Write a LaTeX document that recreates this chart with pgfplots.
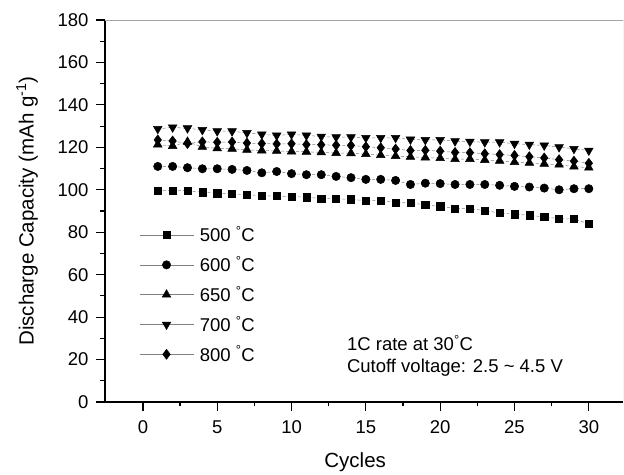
\documentclass[border=0pt]{standalone}
\usepackage{fontspec}
\setmainfont{Liberation Sans}
\usepackage{pgfplots}
\pgfplotsset{compat=1.18}

\pgfplotstableread{
x  a500  a600  a650  a700  a800
1  99.5  111.0 121.3 128.7 123.5
2  99.7  111.0 120.6 129.4 123.0
3  99.5  110.4 122.6 129.0 121.8
4  98.8  109.9 120.2 128.2 122.6
5  98.4  109.9 119.5 127.6 122.4
6  98.2  109.6 119.3 127.6 122.5
7  97.6  109.1 118.8 126.8 122.0
8  97.3  108.0 118.5 126.1 121.8
9  97.0  108.6 118.3 125.6 121.6
10 96.8  107.6 118.0 126.1 121.7
11 96.5  107.1 117.9 125.6 121.3
12 95.9  107.1 117.6 125.1 121.2
13 95.7  106.3 117.3 124.8 121.0
14 95.5  105.7 117.2 124.8 120.9
15 94.8  104.9 116.8 124.5 120.3
16 94.9  104.9 116.3 124.5 119.8
17 94.0  104.4 115.9 124.5 119.2
18 93.9  102.5 115.5 123.7 118.5
19 92.8  103.1 115.2 123.5 118.6
20 92.2  102.9 114.9 123.5 118.2
21 91.2  102.5 114.4 122.9 117.6
22 91.0  102.5 114.5 122.7 117.5
23 90.3  102.5 114.0 122.4 117.0
24 89.0  102.1 113.6 122.4 116.6
25 88.5  101.6 113.0 121.7 116.2
26 88.0  101.3 112.7 121.3 115.6
27 87.2  100.8 112.2 120.9 115.0
28 86.4  100.0 111.8 120.1 114.2
29 86.2  100.5 110.9 119.3 113.5
30 84.0  100.5 110.4 118.5 112.5
}\capdata

\begin{document}
\begin{tikzpicture}
\begin{axis}[
    name=ax,
    scale only axis,
    width=518pt, height=382pt,
    xmin=-2.55, xmax=32.3,
    ymin=0, ymax=180,
    axis lines*=left,
    axis line style={line width=1.2pt},
    xtick={0,5,...,30},
    ytick={0,20,...,180},
    minor x tick num=1,
    minor y tick num=1,
    tick align=outside,
    major tick length=9pt,
    minor tick length=4.5pt,
    tick style={black, line width=1.2pt},
    /pgf/number format/assume math mode=true,
    tick label style={font=\fontsize{18.5}{20}\selectfont},
    xticklabel style={yshift=-6pt},
    yticklabel style={xshift=-4pt},
    xlabel={Cycles},
    ylabel={Discharge Capacity (mAh g\textsuperscript{-1})},
    every axis x label/.style={at={(rel axis cs:0.483,0)}, yshift=-60pt, anchor=center,
        font=\fontsize{20.5}{22}\selectfont},
    every axis y label/.style={at={(rel axis cs:0,0.5)}, xshift=-78pt, rotate=90, anchor=center,
        font=\fontsize{20.5}{22}\selectfont},
    legend style={draw=none, fill=none, at={(rel axis cs:0.06,0.47)}, anchor=north west,
        font=\fontsize{18.5}{20}\selectfont, row sep=9pt, cells={anchor=west},
        nodes={inner xsep=6pt}},
    legend image code/.code={
        \draw[solid, line width=0.5pt, mark repeat=2, mark phase=2]
            plot coordinates {(0pt,0pt) (27pt,0pt) (54pt,0pt)};
    },
    every axis plot/.append style={color=gray, densely dashed, line width=0.5pt,
        mark options={black, fill=black, solid}},
]
\addplot[mark=square*, mark size=3.6pt] table[x=x, y=a500] {\capdata};
\addlegendentry{500 \textsuperscript{\textdegree}C}
\addplot[mark=*, mark size=4.2pt] table[x=x, y=a600] {\capdata};
\addlegendentry{600 \textsuperscript{\textdegree}C}
\addplot[mark=triangle*, mark size=5pt] table[x=x, y=a650] {\capdata};
\addlegendentry{650 \textsuperscript{\textdegree}C}
\addplot[mark=triangle*, mark size=5pt, mark options={black, fill=black, solid, rotate=180}] table[x=x, y=a700] {\capdata};
\addlegendentry{700 \textsuperscript{\textdegree}C}
\addplot[mark=diamond*, mark size=5pt] table[x=x, y=a800] {\capdata};
\addlegendentry{800 \textsuperscript{\textdegree}C}
\draw[gray!70, line width=0.8pt] (rel axis cs:0,1) -- (rel axis cs:1,1) -- (rel axis cs:1,0);
\node[anchor=west, font=\fontsize{18.5}{20}\selectfont] at (axis cs:13.5,27.9) {1C rate at 30\textsuperscript{\textdegree}C};
\node[anchor=west, font=\fontsize{18.5}{20}\selectfont] at (axis cs:13.5,16.1) {Cutoff voltage: 2.5 \textasciitilde{} 4.5 V};
\end{axis}
\path (ax.south west) ++(-105pt,-69pt) coordinate (bbl);
\path (ax.north east) ++(1pt,20pt) coordinate (bbr);
\useasboundingbox (bbl) rectangle (bbr);
\end{tikzpicture}
\end{document}
